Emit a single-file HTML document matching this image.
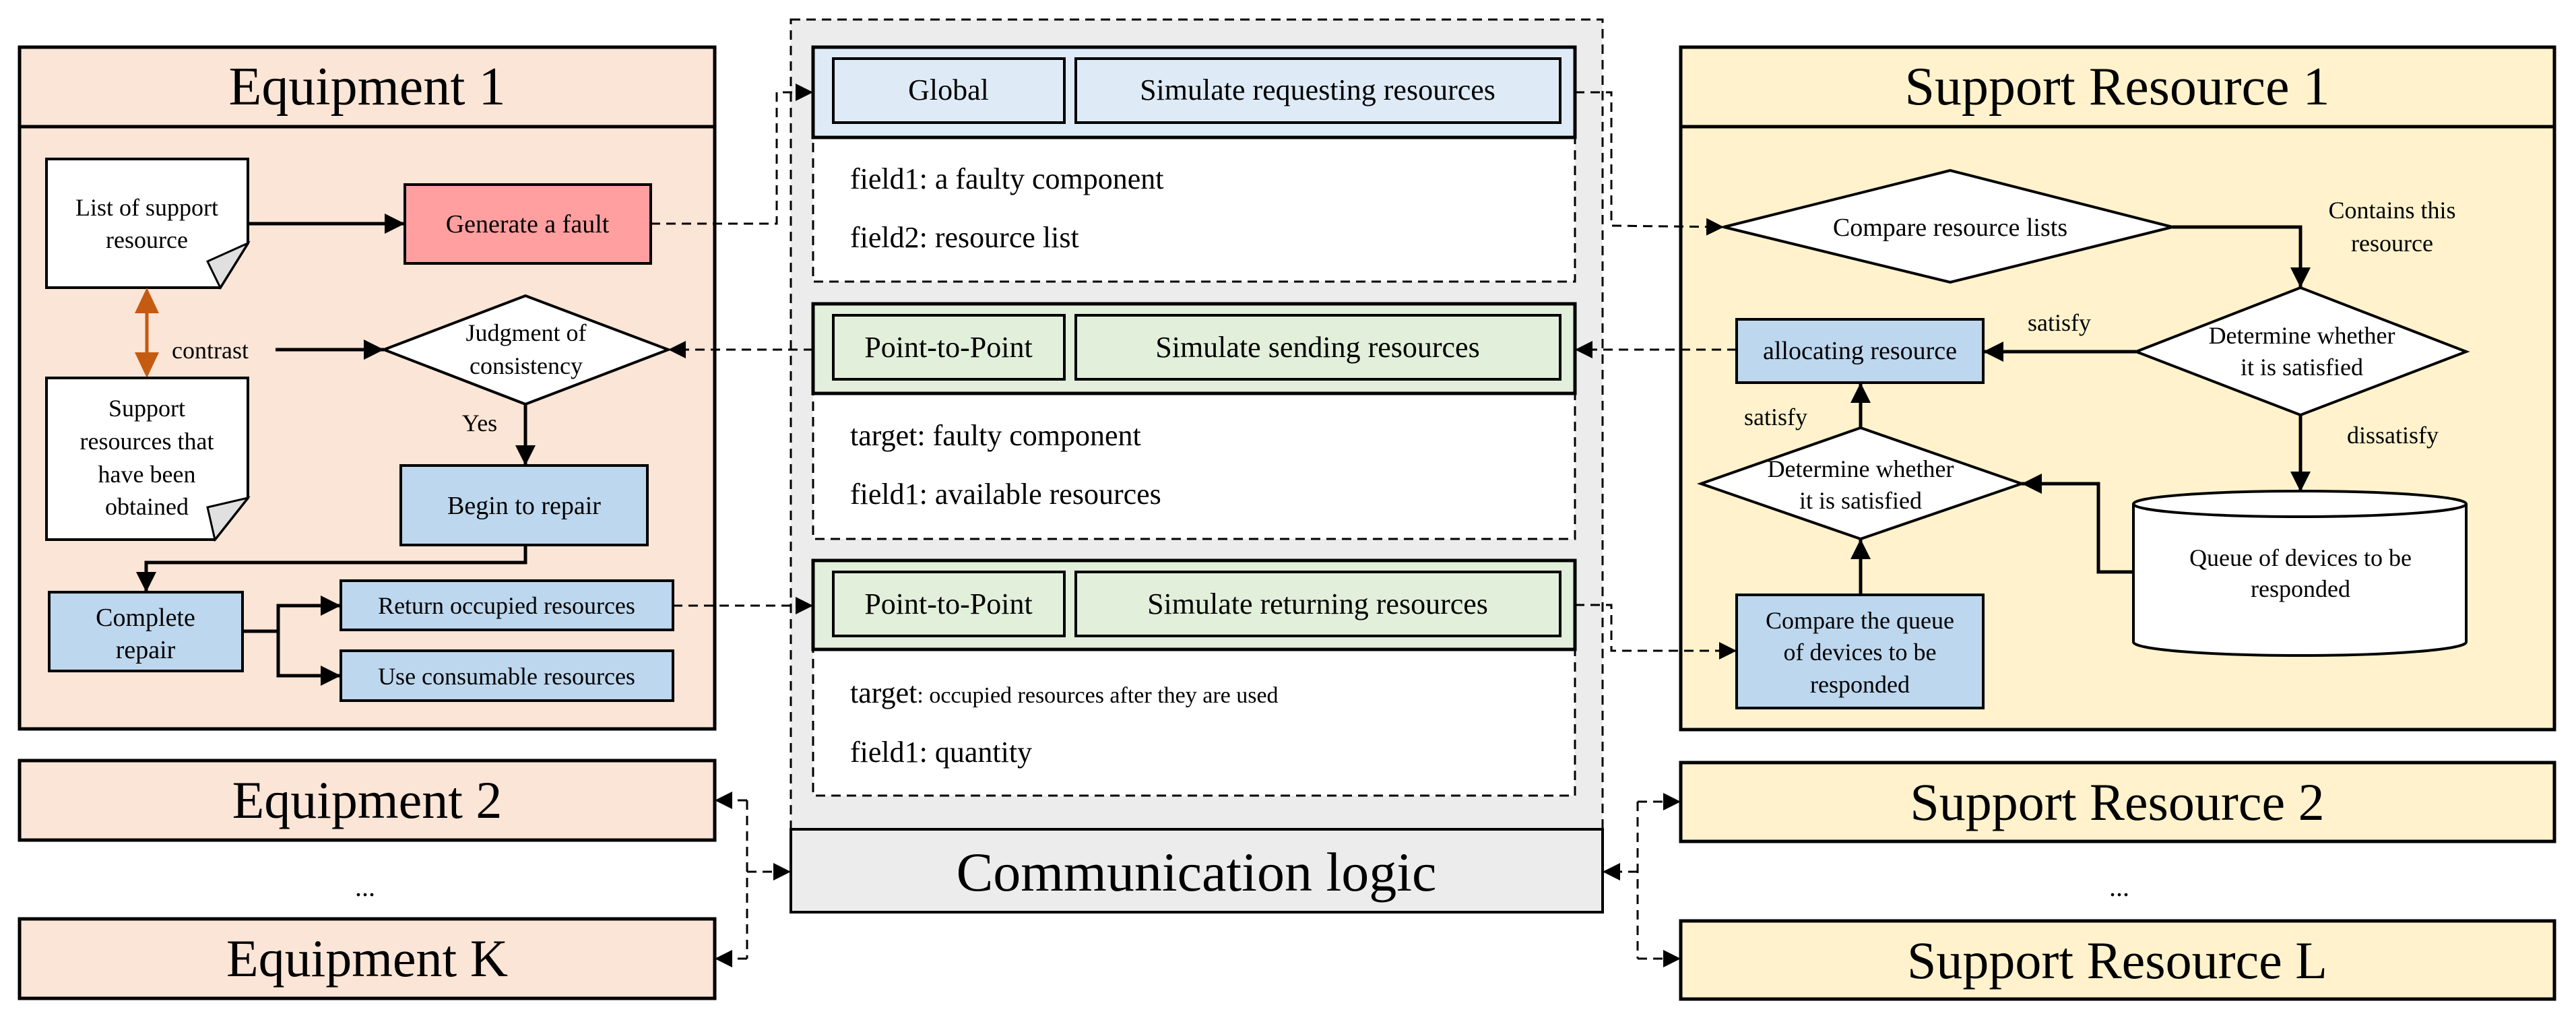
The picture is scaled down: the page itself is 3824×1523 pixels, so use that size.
<!DOCTYPE html>
<html><head><meta charset="utf-8"><style>
html,body{margin:0;padding:0;background:#fff}
svg{display:block}
svg, svg text{font-family:"Liberation Serif","Times New Roman",serif !important;fill:#000}
</style></head><body>
<svg width="3824" height="1523" viewBox="0 0 3824 1523" xmlns="http://www.w3.org/2000/svg" font-family="Liberation Serif, serif">
<defs>
<marker id="a" markerUnits="userSpaceOnUse" markerWidth="40" markerHeight="40" refX="30" refY="15" orient="auto"><path d="M0,0 L30,15 L0,30 Z" fill="#000"/></marker>
<marker id="ad" markerUnits="userSpaceOnUse" markerWidth="40" markerHeight="40" refX="26" refY="13" orient="auto"><path d="M0,0 L26,13 L0,26 Z" fill="#000"/></marker>
</defs>

<!-- Equipment 1 -->
<rect x="29" y="70" width="1032" height="1012" fill="#FBE5D6" stroke="#000" stroke-width="5"/>
<line x1="29" y1="188" x2="1061" y2="188" stroke="#000" stroke-width="5"/>
<text x="545" y="155" font-size="80" text-anchor="middle">Equipment 1</text>

<polygon points="69,236 368,236 368,361 327,427 69,427" fill="#fff" stroke="#000" stroke-width="4"/>
<polygon points="308,388 368,361 327,427" fill="#e0e0e0" stroke="#000" stroke-width="3"/>
<text x="218" y="320" font-size="36" text-anchor="middle">List of support</text>
<text x="218" y="368" font-size="36" text-anchor="middle">resource</text>

<rect x="601" y="274" width="365" height="117" fill="#FF9F9F" stroke="#000" stroke-width="4"/>
<text x="783" y="345" font-size="38" text-anchor="middle">Generate a fault</text>
<line x1="368" y1="332" x2="601" y2="332" stroke="#000" stroke-width="5" marker-end="url(#a)"/>

<line x1="218" y1="460" x2="218" y2="530" stroke="#C55A11" stroke-width="5"/>
<polygon points="218,427 200,465 236,465" fill="#C55A11"/>
<polygon points="218,561 200,523 236,523" fill="#C55A11"/>
<text x="255" y="532" font-size="36">contrast</text>
<line x1="409" y1="519" x2="570" y2="519" stroke="#000" stroke-width="5" marker-end="url(#a)"/>

<polygon points="570,519 780,439 992,519 780,600" fill="#fff" stroke="#000" stroke-width="4"/>
<text x="781" y="506" font-size="36" text-anchor="middle">Judgment of</text>
<text x="781" y="555" font-size="36" text-anchor="middle">consistency</text>

<polygon points="69,561 368,561 368,739 319,801 69,801" fill="#fff" stroke="#000" stroke-width="4"/>
<polygon points="308,753 368,739 319,801" fill="#e0e0e0" stroke="#000" stroke-width="3"/>
<text x="218" y="618" font-size="36" text-anchor="middle">Support</text>
<text x="218" y="667" font-size="36" text-anchor="middle">resources that</text>
<text x="218" y="716" font-size="36" text-anchor="middle">have been</text>
<text x="218" y="764" font-size="36" text-anchor="middle">obtained</text>

<text x="712" y="640" font-size="36" text-anchor="middle">Yes</text>
<line x1="780" y1="600" x2="780" y2="691" stroke="#000" stroke-width="5" marker-end="url(#a)"/>
<rect x="595" y="691" width="366" height="118" fill="#BDD7EE" stroke="#000" stroke-width="4"/>
<text x="778" y="763" font-size="38" text-anchor="middle">Begin to repair</text>

<polyline points="780,809 780,835 217,835 217,879" fill="none" stroke="#000" stroke-width="5" marker-end="url(#a)"/>
<rect x="73" y="879" width="287" height="117" fill="#BDD7EE" stroke="#000" stroke-width="4"/>
<text x="216" y="929" font-size="38" text-anchor="middle">Complete</text>
<text x="216" y="977" font-size="38" text-anchor="middle">repair</text>

<polyline points="360,937 413,937" fill="none" stroke="#000" stroke-width="5"/>
<polyline points="506,899 413,899 413,1003 506,1003" fill="none" stroke="#000" stroke-width="5"/>
<line x1="413" y1="899" x2="506" y2="899" stroke="#000" stroke-width="5" marker-end="url(#a)"/>
<line x1="413" y1="1003" x2="506" y2="1003" stroke="#000" stroke-width="5" marker-end="url(#a)"/>
<rect x="506" y="862" width="493" height="73" fill="#BDD7EE" stroke="#000" stroke-width="4"/>
<text x="752" y="911" font-size="36" text-anchor="middle">Return occupied resources</text>
<rect x="506" y="966" width="493" height="74" fill="#BDD7EE" stroke="#000" stroke-width="4"/>
<text x="752" y="1016" font-size="36" text-anchor="middle">Use consumable resources</text>

<!-- Equipment 2, K -->
<rect x="29" y="1129" width="1032" height="118" fill="#FBE5D6" stroke="#000" stroke-width="5"/>
<text x="545" y="1214" font-size="78" text-anchor="middle">Equipment 2</text>
<text x="542" y="1330" font-size="40" text-anchor="middle">...</text>
<rect x="29" y="1364" width="1032" height="118" fill="#FBE5D6" stroke="#000" stroke-width="5"/>
<text x="545" y="1449" font-size="78" text-anchor="middle">Equipment K</text>

<!-- Middle -->
<rect x="1174" y="29" width="1205" height="1202" fill="#ECECEC" stroke="#000" stroke-width="3" stroke-dasharray="14,9"/>
<rect x="1174" y="1231" width="1205" height="123" fill="#ECECEC" stroke="#000" stroke-width="4"/>
<text x="1776" y="1322" font-size="82" text-anchor="middle">Communication logic</text>

<rect x="1207" y="204" width="1131" height="214" fill="#fff" stroke="#000" stroke-width="3" stroke-dasharray="14,9"/>
<rect x="1207" y="70" width="1131" height="134" fill="#DEEBF7" stroke="#000" stroke-width="5"/>
<rect x="1237" y="87" width="343" height="95" fill="#DEEBF7" stroke="#000" stroke-width="4"/>
<rect x="1597" y="87" width="719" height="95" fill="#DEEBF7" stroke="#000" stroke-width="4"/>
<text x="1408" y="148" font-size="44" text-anchor="middle">Global</text>
<text x="1956" y="148" font-size="44" text-anchor="middle">Simulate requesting resources</text>
<text x="1262" y="280" font-size="44">field1: a faulty component</text>
<text x="1262" y="367" font-size="44">field2: resource list</text>

<rect x="1207" y="584" width="1131" height="216" fill="#fff" stroke="#000" stroke-width="3" stroke-dasharray="14,9"/>
<rect x="1207" y="451" width="1131" height="133" fill="#E2EFDA" stroke="#000" stroke-width="5"/>
<rect x="1237" y="468" width="343" height="95" fill="#E2EFDA" stroke="#000" stroke-width="4"/>
<rect x="1597" y="468" width="719" height="95" fill="#E2EFDA" stroke="#000" stroke-width="4"/>
<text x="1408" y="530" font-size="44" text-anchor="middle">Point-to-Point</text>
<text x="1956" y="530" font-size="44" text-anchor="middle">Simulate sending resources</text>
<text x="1262" y="661" font-size="44">target: faulty component</text>
<text x="1262" y="748" font-size="44">field1: available resources</text>

<rect x="1207" y="964" width="1131" height="217" fill="#fff" stroke="#000" stroke-width="3" stroke-dasharray="14,9"/>
<rect x="1207" y="832" width="1131" height="132" fill="#E2EFDA" stroke="#000" stroke-width="5"/>
<rect x="1237" y="849" width="343" height="95" fill="#E2EFDA" stroke="#000" stroke-width="4"/>
<rect x="1597" y="849" width="719" height="95" fill="#E2EFDA" stroke="#000" stroke-width="4"/>
<text x="1408" y="911" font-size="44" text-anchor="middle">Point-to-Point</text>
<text x="1956" y="911" font-size="44" text-anchor="middle">Simulate returning resources</text>
<text x="1262" y="1043" font-size="44">target<tspan font-size="34">: occupied resources after they are used</tspan></text>
<text x="1262" y="1131" font-size="44">field1: quantity</text>

<!-- Support Resource 1 -->
<rect x="2495" y="70" width="1297" height="1013" fill="#FFF2CC" stroke="#000" stroke-width="5"/>
<line x1="2495" y1="188" x2="3792" y2="188" stroke="#000" stroke-width="5"/>
<text x="3143" y="155" font-size="80" text-anchor="middle">Support Resource 1</text>

<polygon points="2559,337 2895,253 3225,337 2895,419" fill="#fff" stroke="#000" stroke-width="4"/>
<text x="2895" y="350" font-size="38" text-anchor="middle">Compare resource lists</text>
<polyline points="3225,337 3415,337 3415,427" fill="none" stroke="#000" stroke-width="5" marker-end="url(#a)"/>
<text x="3551" y="324" font-size="36" text-anchor="middle">Contains this</text>
<text x="3551" y="373" font-size="36" text-anchor="middle">resource</text>

<polygon points="3171,522 3415,427 3661,522 3415,616" fill="#fff" stroke="#000" stroke-width="4"/>
<text x="3417" y="510" font-size="36" text-anchor="middle">Determine whether</text>
<text x="3417" y="557" font-size="36" text-anchor="middle">it is satisfied</text>

<rect x="2578" y="474" width="366" height="94" fill="#BDD7EE" stroke="#000" stroke-width="4"/>
<text x="2761" y="533" font-size="38" text-anchor="middle">allocating resource</text>
<line x1="3171" y1="522" x2="2944" y2="522" stroke="#000" stroke-width="5" marker-end="url(#a)"/>
<text x="3057" y="491" font-size="36" text-anchor="middle">satisfy</text>

<line x1="3415" y1="616" x2="3415" y2="730" stroke="#000" stroke-width="5" marker-end="url(#a)"/>
<text x="3552" y="658" font-size="36" text-anchor="middle">dissatisfy</text>

<path d="M3167,748 L3167,953 A247,20 0 0 0 3661,953 L3661,748" fill="#fff" stroke="#000" stroke-width="4"/>
<ellipse cx="3414" cy="748" rx="247" ry="19" fill="#fff" stroke="#000" stroke-width="4"/>
<text x="3415" y="840" font-size="36" text-anchor="middle">Queue of devices to be</text>
<text x="3415" y="886" font-size="36" text-anchor="middle">responded</text>

<polyline points="3167,849 3115,849 3115,718 3001,718" fill="none" stroke="#000" stroke-width="5" marker-end="url(#a)"/>
<polygon points="2525,718 2762,635 3001,718 2762,800" fill="#fff" stroke="#000" stroke-width="4"/>
<text x="2762" y="708" font-size="36" text-anchor="middle">Determine whether</text>
<text x="2762" y="755" font-size="36" text-anchor="middle">it is satisfied</text>
<line x1="2762" y1="635" x2="2762" y2="568" stroke="#000" stroke-width="5" marker-end="url(#a)"/>
<text x="2636" y="631" font-size="36" text-anchor="middle">satisfy</text>

<rect x="2578" y="883" width="366" height="168" fill="#BDD7EE" stroke="#000" stroke-width="4"/>
<text x="2761" y="933" font-size="36" text-anchor="middle">Compare the queue</text>
<text x="2761" y="980" font-size="36" text-anchor="middle">of devices to be</text>
<text x="2761" y="1028" font-size="36" text-anchor="middle">responded</text>
<line x1="2762" y1="883" x2="2762" y2="800" stroke="#000" stroke-width="5" marker-end="url(#a)"/>

<rect x="2495" y="1132" width="1297" height="117" fill="#FFF2CC" stroke="#000" stroke-width="5"/>
<text x="3143" y="1217" font-size="78" text-anchor="middle">Support Resource 2</text>
<text x="3146" y="1330" font-size="40" text-anchor="middle">...</text>
<rect x="2495" y="1367" width="1297" height="116" fill="#FFF2CC" stroke="#000" stroke-width="5"/>
<text x="3143" y="1452" font-size="78" text-anchor="middle">Support Resource L</text>

<g fill="none" stroke="#000" stroke-width="3" stroke-dasharray="14,9">
<polyline points="966,332 1153,332 1153,137 1207,137" marker-end="url(#ad)"/>
<line x1="1207" y1="519" x2="992" y2="519" marker-end="url(#ad)"/>
<line x1="999" y1="899" x2="1207" y2="899" marker-end="url(#ad)"/>
<polyline points="2338,137 2392,137 2392,335 2559,337" marker-end="url(#ad)"/>
<line x1="2578" y1="519" x2="2338" y2="519" marker-end="url(#ad)"/>
<polyline points="2338,898 2392,898 2392,966 2578,966" marker-end="url(#ad)"/>
<polyline points="1109,1188 1109,1423"/>
<line x1="1109" y1="1188" x2="1061" y2="1188" marker-end="url(#ad)"/>
<line x1="1109" y1="1423" x2="1061" y2="1423" marker-end="url(#ad)"/>
<line x1="1109" y1="1294" x2="1174" y2="1294" marker-end="url(#ad)"/>
<polyline points="2431,1190 2431,1423"/>
<line x1="2431" y1="1190" x2="2495" y2="1190" marker-end="url(#ad)"/>
<line x1="2431" y1="1423" x2="2495" y2="1423" marker-end="url(#ad)"/>
<line x1="2431" y1="1294" x2="2379" y2="1294" marker-end="url(#ad)"/>
</g>
</svg>
</body></html>
